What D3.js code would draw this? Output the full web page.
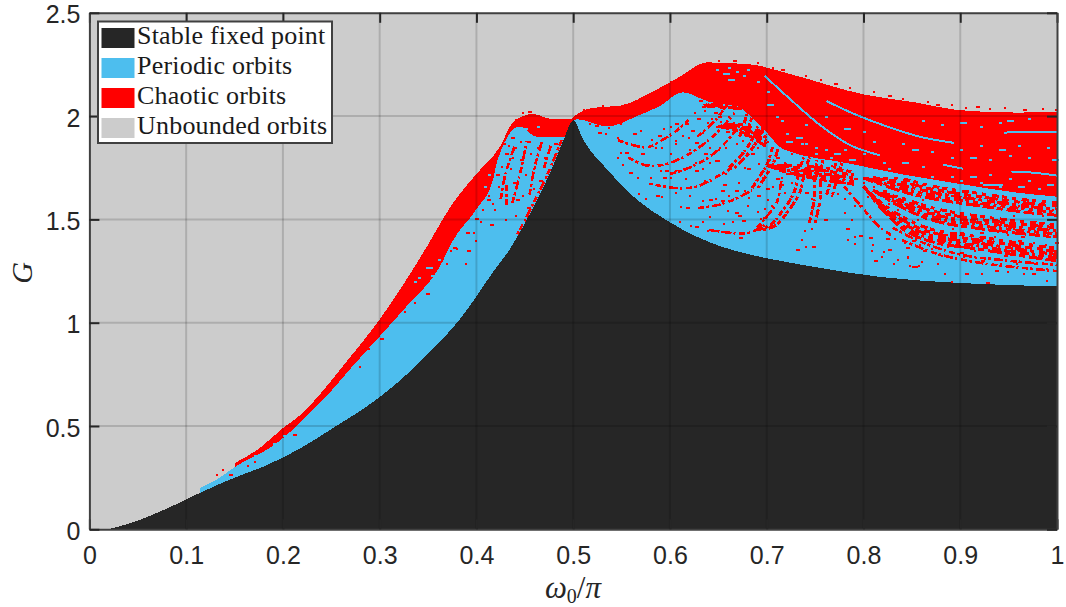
<!DOCTYPE html>
<html>
<head>
<meta charset="utf-8">
<script src="https://cdnjs.cloudflare.com/ajax/libs/d3/7.8.5/d3.min.js"></script>
<style>
  html, body { margin: 0; background: #fff; }
  svg { display: block; }
</style>
</head>
<body>
<div id="chart"></div>
<script>
// boundaries, as [omega0/pi, G]
const stableEdge = [[0,0],[.021,.003],[.032,.016],[.052,.045],[.07,.08],[.09,.122],[.114,.176],[.149,.248],[.183,.31],[.218,.392],[.25,.485],[.3,.64],[.334,.775],[.35,.85],[.383,1.017],[.417,1.244],[.435,1.36],[.46,1.57],[.476,1.724],[.49,1.884],[.5,1.98],[.51,1.888],[.535,1.742],[.562,1.612],[.6,1.486],[.652,1.37],[.683,1.33],[.752,1.268],[.82,1.22],[.889,1.195],[.958,1.181],[1,1.176]];
const periodicTop = [[.114,.2],[.131,.239],[.149,.297],[.159,.326],[.183,.384],[.204,.456],[.218,.52],[.25,.67],[.271,.784],[.3,.934],[.328,1.08],[.362,1.27],[.376,1.4],[.4,1.55],[.417,1.69],[.422,1.79],[.445,1.95],[.462,1.9],[.493,1.9],[.497,1.95],[.504,1.985],[.535,1.95],[.566,2],[.59,2.05],[.613,2.115],[.64,2.07],[.669,2.05],[.683,2],[.7,1.92],[.717,1.84],[.786,1.77],[.838,1.72],[.889,1.68],[.958,1.63],[1,1.61]];
const chaoticTop = [[.15,.32],[.176,.393],[.2,.49],[.218,.553],[.25,.72],[.261,.784],[.3,1.016],[.349,1.37],[.369,1.53],[.376,1.58],[.4,1.72],[.424,1.85],[.438,1.97],[.458,2.01],[.479,1.985],[.497,1.985],[.504,2.01],[.52,2.04],[.548,2.05],[.583,2.12],[.61,2.19],[.638,2.26],[.683,2.25],[.727,2.2],[.8,2.105],[.855,2.065],[.896,2.03],[.958,2.017],[1,2.02]];

// thin curved chains of chaotic cells in the periodic zone
const chaoticArcs = [
  [[.546,1.884],[.561,1.86],[.577,1.85],[.592,1.884],[.605,1.923],[.619,1.98]],
  [[.557,1.8],[.574,1.763],[.592,1.763],[.612,1.797],[.629,1.845],[.646,1.908],[.667,2.015]],
  [[.585,1.667],[.605,1.652],[.626,1.657],[.646,1.7],[.664,1.749]],
  [[.629,1.555],[.65,1.57],[.67,1.604],[.685,1.642]],
  [[.64,1.45],[.664,1.434],[.681,1.434],[.698,1.473]],
  [[.488,1.884],[.474,1.724],[.458,1.57],[.441,1.415]],
  [[.431,1.57],[.431,1.666]],
  [[.425,1.6],[.43,1.72],[.44,1.86]],
  [[.437,1.58],[.445,1.72],[.452,1.88]],
  [[.455,1.62],[.46,1.75],[.468,1.88]],
  [[.47,1.75],[.477,1.86]],
  [[.628,1.9],[.645,1.97],[.66,2.06]],
  [[.6,1.72],[.62,1.75],[.64,1.8],[.655,1.86],[.668,1.93]],
  [[.69,1.46],[.71,1.58],[.715,1.68],[.72,1.78]],
  [[.83,1.46],[.86,1.39],[.9,1.33],[.95,1.3],[1,1.28]],
  [[.84,1.4],[.875,1.335],[.92,1.29],[.965,1.265],[1,1.25]],
  [[.78,1.66],[.8,1.55],[.815,1.47],[.83,1.42]]
];
// heavier fans climbing from the periodic zone to the solid band
const chaoticFans = [
  [[.664,1.749],[.681,1.836],[.691,1.918],[.698,2.015]],
  [[.688,1.652],[.698,1.725],[.704,1.773],[.709,1.85]],
  [[.693,1.449],[.707,1.473],[.72,1.546],[.731,1.628],[.736,1.725],[.741,1.8]],
  [[.747,1.483],[.752,1.594],[.753,1.725],[.755,1.787]],
  [[.765,1.62],[.77,1.7],[.775,1.78]],
  [[.675,1.9],[.68,1.97],[.685,2.05]]
];
// wide mottled bands, narrow where they start
const chaoticBands = [
  [[.8,1.7],[.84,1.665],[.872,1.63],[.92,1.595],[.976,1.56],[1,1.55]],
  [[.81,1.64],[.84,1.58],[.872,1.525],[.92,1.485],[.976,1.455],[1,1.445]],
  [[.8,1.66],[.82,1.56],[.845,1.47],[.872,1.42],[.92,1.385],[.976,1.345],[1,1.33]],
  [[.635,2.05],[.66,2.06],[.69,2.06]],
  [[.65,1.95],[.675,1.94],[.7,1.88]],
  [[.7,1.76],[.73,1.74],[.76,1.72],[.79,1.7]]
];
// periodic stripes running through the chaotic zone
const periodicStripes = [
  [[.698,2.194],[.724,2.083],[.755,1.957],[.786,1.86],[.817,1.81]],
  [[.762,2.073],[.788,2.015],[.823,1.952],[.859,1.899],[.894,1.87]],
  [[.945,1.92],[.975,1.925],[1,1.925]],
  [[.882,1.765],[.903,1.745]],
  [[.953,1.728],[.97,1.728],[1,1.712]],
  [[.924,1.667],[.944,1.667]],
  [[.948,1.976],[.956,1.976]]
];
const chaoticCells = [
  [.376,1.368],[.373,1.352],[.379,1.36],[.389,1.44],[.396,1.44],[.398,1.4],[.39,1.352],[.388,1.287],[.369,1.287],[.348,1.143],[.335,1.1],[.325,1.055],[.3,.925],[.288,.876],[.279,.79],[.411,1.6],[.406,1.55],[.404,1.49],[.398,1.505],[.17,.33],[.163,.31],[.144,.27],[.131,.27],[.137,.29],[.21,.46],[.195,.42],
  [.425,1.76],[.43,1.82],[.435,1.75],[.44,1.85],[.445,1.79],[.428,1.7],[.422,1.66],[.438,1.68],[.45,1.72],[.447,1.62],[.441,1.6],[.455,1.82],[.46,1.76],[.465,1.69],[.458,1.65],[.47,1.8],[.452,1.88],[.463,1.85],[.445,1.88],[.436,1.9],[.428,1.87],[.433,1.86],[.42,1.72],[.425,1.62],[.418,1.55],[.414,1.48],[.43,1.5],[.44,1.52],[.452,1.56],[.437,1.8],[.475,1.84],[.48,1.87],[.412,1.62],[.416,1.58],
  [.526,1.925],[.533,1.917],[.545,1.9],[.562,1.92],[.569,1.933],[.593,1.941],[.588,1.909],[.595,1.9],[.585,1.852],[.605,1.965],[.605,1.885],[.612,1.909],[.622,1.933],[.619,1.9],[.633,1.925],[.616,1.965],[.591,1.852],[.605,1.868],[.626,1.876],[.64,1.852],[.548,1.828],[.554,1.828],[.545,1.804],[.55,1.768],[.558,1.73],[.566,1.704],[.579,1.704],[.578,1.675],[.567,1.627],[.574,1.603],[.586,1.619],[.591,1.611],[.59,1.74],[.595,1.74],[.605,1.74],[.61,1.74],[.593,1.704],[.6,1.704],[.616,1.7],[.626,1.74],[.633,1.748],[.64,1.78],[.647,1.788],[.626,1.78],[.641,1.691],[.653,1.643],[.605,1.635],[.61,1.566],[.617,1.562],[.633,1.594],[.647,1.602],[.653,1.594],[.64,1.517],[.659,1.546],[.667,1.538],[.609,1.49],[.621,1.474],[.626,1.466],[.633,1.49],[.638,1.45],[.643,1.45],[.655,1.482],[.664,1.49],[.674,1.498],[.693,1.506],[.653,1.442],[.671,1.417],[.693,1.474],
  [.516,1.965],[.523,1.955],[.536,1.949],[.548,1.965],[.657,1.965],[.664,1.917],[.674,1.885],[.681,1.933],[.657,1.852],[.671,1.804],[.684,1.82],[.677,1.756],[.691,1.772],[.695,1.707],[.65,1.788],[.657,1.724],[.667,1.643],[.677,1.643],[.681,1.61],
  [.63,2.08],[.64,2.06],[.635,2.03],[.645,2.02],[.625,2.02],[.655,2.04],[.65,2],[.66,2],[.665,1.97],[.628,1.99],[.638,1.97],[.648,1.95],[.658,1.93],[.642,1.99],[.652,1.975],[.633,2.05],
  [.6,1.95],[.58,1.89],[.57,1.82],[.6,1.82],[.62,1.84],[.635,1.82],[.65,1.84],[.668,1.87],[.68,1.75],[.69,1.7],[.67,1.68],[.655,1.67],[.635,1.69],[.62,1.62],[.64,1.6],[.66,1.62],[.68,1.57],[.67,1.52],[.69,1.54],[.7,1.6],[.69,1.62],[.705,1.66],[.712,1.7],[.7,1.79],[.69,1.85],[.7,1.88],[.71,1.8],[.725,1.82],[.735,1.84],[.745,1.74],[.725,1.68],
  [.711,1.592],[.73,1.358],[.735,1.405],[.74,1.373],[.747,1.369],[.739,1.45],[.746,1.458],[.759,1.502],[.766,1.619],[.773,1.627],[.773,1.691],[.78,1.603],[.78,1.538],[.782,1.458],[.783,1.405],[.79,1.418],[.795,1.426],[.79,1.385],[.787,1.502],[.806,1.415],[.808,1.35],[.809,1.382],[.811,1.305],[.818,1.321],[.82,1.345],[.825,1.357],[.83,1.289],[.835,1.308],[.823,1.41],[.832,1.41],[.842,1.389],[.844,1.366],[.845,1.32],[.847,1.281],[.852,1.273],[.856,1.281],[.718,1.635],[.72,1.724],[.728,1.724],[.723,1.764],[.699,1.651],[.704,1.571],[.697,1.555],[.696,1.511],[.746,1.603],[.746,1.546],[.74,1.635],[.766,1.764],[.771,1.732],[.778,1.683],[.785,1.732],[.79,1.571],[.795,1.571],[.804,1.611],[.813,1.587],[.71,1.7],[.713,1.74],[.716,1.67],[.76,1.74],[.76,1.69],[.765,1.71],[.79,1.7],[.8,1.68],[.81,1.66],[.82,1.64],[.83,1.62],[.825,1.58],[.84,1.6],[.835,1.55],[.85,1.54],[.86,1.56],[.855,1.5],[.87,1.53],[.88,1.55],[.865,1.47],
  [.845,1.321],[.862,1.353],[.876,1.386],[.886,1.37],[.9,1.37],[.914,1.353],[.927,1.37],[.948,1.353],[.89,1.345],[.903,1.321],[.921,1.305],[.941,1.289],[.958,1.289],[.976,1.289],[.989,1.289],[.859,1.297],[.85,1.273],[.876,1.289],[.883,1.241],[.905,1.241],[.921,1.241],[.933,1.289],[.936,1.257],[.948,1.249],[.965,1.241],[.974,1.241],[.989,1.265],[.989,1.209],[.927,1.196],[.89,1.2],
  [.84,1.46],[.85,1.4],[.857,1.38],[.868,1.42],[.878,1.44],[.885,1.43],[.892,1.46],[.9,1.44],[.905,1.47],[.915,1.46],[.92,1.44],[.928,1.47],[.935,1.42],[.94,1.45],[.948,1.43],[.955,1.46],[.963,1.42],[.97,1.45],[.978,1.43],[.985,1.46],[.992,1.42],[.998,1.44],[.9,1.52],[.91,1.5],[.92,1.52],[.935,1.5],[.945,1.48],[.955,1.52],[.97,1.54],[.985,1.52],[.995,1.55],[.96,1.4],[.975,1.39],[.988,1.38],[.998,1.39],[.87,1.36],[.88,1.33],[.9,1.34],[.915,1.32],[.93,1.32],[.945,1.33],[.96,1.35],[.98,1.33],[.995,1.31],[.86,1.6],[.875,1.61],[.89,1.62],[.905,1.6],[.92,1.58],[.94,1.58],[.96,1.57],[.98,1.575],[.997,1.57]
];
// loose chaotic cells just above the top edge
const chaoticFringe = [[.44,1.985],[.447,2.02],[.453,2.025],[.51,2.035],[.53,2.055],[.6,2.17],[.625,2.24],[.65,2.27],[.665,2.27],[.69,2.26],[.705,2.24],[.715,2.23],[.74,2.2],[.755,2.18],[.77,2.16],[.785,2.14],[.81,2.12],[.825,2.1],[.84,2.09],[.866,2.075],[.875,2.06],[.89,2.06],[.905,2.045],[.916,2.05],[.93,2.04],[.945,2.045],[.965,2.035],[.985,2.04],[.998,2.035]];
const periodicCells = [
  [.348,1.27],[.34,1.22],[.335,1.2],[.353,1.23],[.285,.86],[.28,.83],[.36,1.31],[.17,.36],[.19,.42],[.2,.455],[.412,1.72],[.408,1.66],[.44,1.93],[.45,1.94],[.463,1.95],
  [.648,2.23],[.655,2.21],[.66,2.24],[.668,2.22],[.675,2.2],[.66,2.18],[.68,2.23],[.69,2.17],[.7,2.12],[.7,2.06],[.71,2],[.715,1.98],[.72,1.92],[.73,1.9],[.74,1.87],[.75,1.85],[.76,1.84],[.77,1.82],[.78,1.84],[.8,1.82],[.82,1.78],[.84,1.78],[.86,1.76],[.74,1.96],[.76,2],[.78,1.94],[.8,1.93],[.81,1.88],[.84,1.87],[.85,1.84],[.87,1.83],[.9,1.84],[.92,1.86],[.94,1.84],[.96,1.86],[.99,1.85],[.89,1.8],[.91,1.8],[.93,1.79],[.95,1.81],[.97,1.8],[.995,1.79],[.85,1.7],[.87,1.71],[.89,1.71],[.91,1.71],[.93,1.72],[.95,1.7],[.97,1.69],[.99,1.67],[.9,1.69],[.92,1.68],[.94,1.66],[.96,1.66],[.98,1.65],[.86,1.98],[.88,1.96],[.9,1.97],[.92,1.95],[.94,1.97],[.97,1.99],
  [.72,1.88],[.735,1.87],[.75,1.82],[.765,1.8],[.785,1.79],[.795,1.76],[.81,1.74],[.825,1.75]
];

const xTicks = [0, .1, .2, .3, .4, .5, .6, .7, .8, .9, 1];
const yTicks = [0, .5, 1, 1.5, 2, 2.5];
const legendNames = ["Stable fixed point", "Periodic orbits", "Chaotic orbits", "Unbounded orbits"];
const legendColors = ["#262626", "#4dbeee", "#ff0000", "#cccccc"];

const width = 1066, height = 607;
const x = d3.scaleLinear().domain([0, 1]).range([89.4, 1057]);
const y = d3.scaleLinear().domain([0, 2.5]).range([529.3, 12.8]);

const svg = d3.select("#chart").append("svg")
    .attr("width", width)
    .attr("height", height);

const area = d3.area().x(d => x(d[0])).y0(y(0)).y1(d => y(d[1])).curve(d3.curveMonotoneX);
const line = d3.line().x(d => x(d[0])).y(d => y(d[1])).curve(d3.curveCatmullRom);

svg.append("rect")
    .attr("x", x(0)).attr("y", y(2.5))
    .attr("width", x(1) - x(0)).attr("height", y(0) - y(2.5))
    .attr("fill", "#cccccc");

const map = svg.append("g").attr("shape-rendering", "crispEdges");
map.append("path").attr("d", area(chaoticTop)).attr("fill", "#ff0000");
map.append("path").attr("d", area(periodicTop)).attr("fill", "#4dbeee");

map.selectAll(".stripe")
  .data(periodicStripes)
  .join("path")
    .attr("class", "stripe")
    .attr("d", line)
    .attr("fill", "none")
    .attr("stroke", "#4dbeee")
    .attr("stroke-width", 2);

// each band is several dashed passes, spreading out from its start
const bandPasses = [-.03, -.015, 0, .015, .03];
const bandDashes = ["11 3 6 4 14 3", "5 4 9 3 3 4", "12 3 4 5 8 2", "6 3 13 4 7 5", "4 6 7 3 5 5"];
map.selectAll(".band")
  .data(chaoticBands.flatMap(b => bandPasses.map(o => b.map(p => [p[0], p[1] + o * Math.min(1, (p[0] - b[0][0]) / .04)]))))
  .join("path")
    .attr("class", "band")
    .attr("d", line)
    .attr("fill", "none")
    .attr("stroke", "#ff0000")
    .attr("stroke-width", 3)
    .attr("stroke-dasharray", (d, i) => bandDashes[i % bandDashes.length]);

const fanDashes = ["6 2 3 3 7 1 2 3", "3 3 8 2 4 4 5 1"];
map.selectAll(".fan")
  .data(chaoticFans.flatMap(f => [-.003, .003].map(o => f.map(p => [p[0] + o, p[1]]))))
  .join("path")
    .attr("class", "fan")
    .attr("d", line)
    .attr("fill", "none")
    .attr("stroke", "#ff0000")
    .attr("stroke-width", 3)
    .attr("stroke-dasharray", (d, i) => fanDashes[i % 2]);

map.selectAll(".arc")
  .data(chaoticArcs)
  .join("path")
    .attr("class", "arc")
    .attr("d", line)
    .attr("fill", "none")
    .attr("stroke", "#ff0000")
    .attr("stroke-width", 2.6)
    .attr("stroke-dasharray", "6 2 3 3 9 2 2 4");

map.selectAll(".chaotic-cell")
  .data(chaoticCells.concat(chaoticFringe))
  .join("rect")
    .attr("class", "chaotic-cell")
    .attr("x", d => x(d[0]))
    .attr("y", d => y(d[1]))
    .attr("width", (d, i) => i % 3 ? 2 : 4)
    .attr("height", 2)
    .attr("fill", "#ff0000");

map.selectAll(".periodic-cell")
  .data(periodicCells)
  .join("rect")
    .attr("class", "periodic-cell")
    .attr("x", d => x(d[0]))
    .attr("y", d => y(d[1]))
    .attr("width", (d, i) => i % 4 ? 3 : 7)
    .attr("height", 2)
    .attr("fill", "#4dbeee");

map.append("path").attr("d", area(stableEdge)).attr("fill", "#262626");

// grid sits on top of the map, as in the original
const grid = svg.append("g").attr("stroke", "#000").attr("stroke-opacity", .15).attr("stroke-width", 2);
grid.selectAll(".gx").data(xTicks.slice(1, -1)).join("line")
    .attr("class", "gx")
    .attr("x1", d => x(d)).attr("x2", d => x(d))
    .attr("y1", y(0)).attr("y2", y(2.5));
grid.selectAll(".gy").data(yTicks.slice(1, -1)).join("line")
    .attr("class", "gy")
    .attr("x1", x(0)).attr("x2", x(1))
    .attr("y1", d => y(d)).attr("y2", d => y(d));

function styleAxis(g) {
  g.selectAll(".domain").attr("stroke", "#404040").attr("stroke-width", 2);
  g.selectAll(".tick line").attr("stroke", "#262626").attr("stroke-width", 2);
  g.selectAll("text")
      .attr("fill", "#262626")
      .attr("font-family", "Liberation Sans, Arial, sans-serif")
      .attr("font-size", 25);
}

svg.append("g")
    .attr("transform", `translate(0,${y(0)})`)
    .call(d3.axisBottom(x).tickValues(xTicks).tickFormat(String).tickSize(-10).tickSizeOuter(0).tickPadding(17))
    .call(styleAxis);
svg.append("g")
    .attr("transform", `translate(0,${y(2.5)})`)
    .call(d3.axisTop(x).tickValues(xTicks).tickFormat("").tickSize(-10).tickSizeOuter(0))
    .call(styleAxis);
svg.append("g")
    .attr("transform", `translate(${x(0)},0)`)
    .call(d3.axisLeft(y).tickValues(yTicks).tickFormat(String).tickSize(-10).tickSizeOuter(0).tickPadding(9))
    .call(styleAxis)
    .call(g => g.selectAll("text").attr("dy", "0.4em"));
svg.append("g")
    .attr("transform", `translate(${x(1)},0)`)
    .call(d3.axisRight(y).tickValues(yTicks).tickFormat("").tickSize(-10).tickSizeOuter(0))
    .call(styleAxis);

const serif = "Liberation Serif, DejaVu Serif, serif";

const xLabel = svg.append("text")
    .attr("x", 573).attr("y", 598)
    .attr("text-anchor", "middle")
    .attr("font-family", serif)
    .attr("font-size", 31)
    .attr("fill", "#262626");
xLabel.append("tspan").attr("font-style", "italic").text("ω");
xLabel.append("tspan").attr("font-size", 20).attr("dy", 5).text("0");
xLabel.append("tspan").attr("dy", -5).text("/");
xLabel.append("tspan").attr("font-style", "italic").text("π");

svg.append("text")
    .attr("transform", "translate(32,273) rotate(-90)")
    .attr("text-anchor", "middle")
    .attr("font-family", serif)
    .attr("font-style", "italic")
    .attr("font-size", 30)
    .attr("fill", "#262626")
    .text("G");

const legend = svg.append("g");
legend.append("rect")
    .attr("x", 98).attr("y", 21.5)
    .attr("width", 234).attr("height", 121.5)
    .attr("fill", "#fff")
    .attr("stroke", "#404040")
    .attr("stroke-width", 2);

const row = legend.selectAll(".row")
  .data(legendNames)
  .join("g")
    .attr("class", "row")
    .attr("transform", (d, i) => `translate(0,${28 + i * 30})`);
row.append("rect")
    .attr("x", 101.5).attr("width", 33).attr("height", 20)
    .attr("fill", (d, i) => legendColors[i]);
row.append("text")
    .attr("x", 137).attr("y", 16)
    .attr("font-family", serif)
    .attr("font-size", 26)
    .attr("letter-spacing", .2)
    .attr("fill", "#1a1a1a")
    .text(d => d);
</script>
</body>
</html>
